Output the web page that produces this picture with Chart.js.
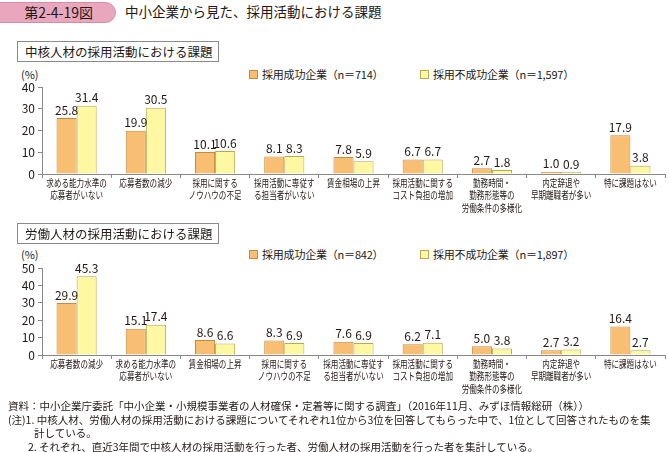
<!DOCTYPE html>
<html lang="ja">
<head>
<meta charset="utf-8">
<script src="https://cdn.jsdelivr.net/npm/chart.js@4"></script>
<style>
  body { margin: 0; width: 669px; height: 452px; background: #fff; position: relative; overflow: hidden;
         font-family: "Noto Sans CJK JP", "Noto Sans", sans-serif; color: #231815; }
  .abs { position: absolute; white-space: nowrap; }
  .fig-no { left: -12px; top: 2px; width: 128px; height: 21px; background: #e9a7bd; border: 1px solid #d88ba4;
            border-radius: 11px; box-sizing: border-box; font-size: 14px; line-height: 19px; text-align: right; padding-right: 22px; }
  .fig-title { left: 125px; top: 1px; font-size: 13.5px; line-height: 20px; }
  .sec { left: 17px; width: 202px; height: 21px; border: 1px solid #8a8a8a; box-sizing: border-box;
         font-size: 12.5px; line-height: 19px; padding-left: 7px; }
  .unit { font-size: 11px; left: 21px; }
  .lg { font-size: 11px; display: flex; align-items: center; letter-spacing: -0.2px; }
  .sw { width: 9px; height: 9px; box-sizing: border-box; margin-right: 4px; }
  .sw.o { background: #f8be72; border: 1px solid #c98a3e; }
  .sw.y { background: #fff8a2; border: 1px solid #b8a955; }
  canvas { position: absolute; left: 0; }
  .note { left: 8px; font-size: 10.5px; line-height: 13.5px; }
</style>
</head>
<body>
<div class="abs fig-no">第2-4-19図</div>
<div class="abs fig-title">中小企業から見た、採用活動における課題</div>

<div class="abs sec" style="top:41px">中核人材の採用活動における課題</div>
<div class="abs unit" style="top:66px">(%)</div>
<div class="abs lg" style="left:249px; top:66px"><span class="sw o"></span>採用成功企業（n＝714）</div>
<div class="abs lg" style="left:420px; top:66px"><span class="sw y"></span>採用不成功企業（n＝1,597）</div>
<canvas id="coreChart" width="669" height="150" style="top:77px"></canvas>

<div class="abs sec" style="top:223px">労働人材の採用活動における課題</div>
<div class="abs unit" style="top:246px">(%)</div>
<div class="abs lg" style="left:249px; top:246px"><span class="sw o"></span>採用成功企業（n＝842）</div>
<div class="abs lg" style="left:420px; top:246px"><span class="sw y"></span>採用不成功企業（n＝1,897）</div>
<canvas id="laborChart" width="669" height="150" style="top:258px"></canvas>

<div class="abs note" style="top:399px">資料：中小企業庁委託「中小企業・小規模事業者の人材確保・定着等に関する調査」（2016年11月、みずほ情報総研（株））<br>
(注)1. 中核人材、労働人材の採用活動における課題についてそれぞれ1位から3位を回答してもらった中で、1位として回答されたものを集<br>
<span style="padding-left:26px">計している。</span><br>
<span style="padding-left:20px">2. それぞれ、直近3年間で中核人材の採用活動を行った者、労働人材の採用活動を行った者を集計している。</span></div>

<script>
/* ---------- Data ---------- */
const coreLabels = [
  ['求める能力水準の', '応募者がいない'], '応募者数の減少', ['採用に関する', 'ノウハウの不足'],
  ['採用活動に専従す', 'る担当者がいない'], '賃金相場の上昇', ['採用活動に関する', 'コスト負担の増加'],
  ['勤務時間・', '勤務形態等の', '労働条件の多様化'], ['内定辞退や', '早期離職者が多い'], '特に課題はない'
];
const coreSuccess = [25.8, 19.9, 10.1, 8.1, 7.8, 6.7, 2.7, 1.0, 17.9];
const coreFail    = [31.4, 30.5, 10.6, 8.3, 5.9, 6.7, 1.8, 0.9, 3.8];
const coreTicks   = [0, 10, 20, 30, 40];

const laborLabels = [
  '応募者数の減少', ['求める能力水準の', '応募者がいない'], '賃金相場の上昇',
  ['採用に関する', 'ノウハウの不足'], ['採用活動に専従す', 'る担当者がいない'], ['採用活動に関する', 'コスト負担の増加'],
  ['勤務時間・', '勤務形態等の', '労働条件の多様化'], ['内定辞退や', '早期離職者が多い'], '特に課題はない'
];
const laborSuccess = [29.9, 15.1, 8.6, 8.3, 7.6, 6.2, 5.0, 2.7, 16.4];
const laborFail    = [45.3, 17.4, 6.6, 6.9, 6.9, 7.1, 3.8, 3.2, 2.7];
const laborTicks   = [0, 10, 20, 30, 40, 50];

const FONT = '"Noto Sans CJK JP", "Noto Sans", sans-serif';

/* ---------- Plugins: value labels + condensed category labels ---------- */
const valueLabels = {
  id: 'valueLabels',
  afterDatasetsDraw(chart) {
    const ctx = chart.ctx;
    ctx.save();
    ctx.font = '12px ' + FONT;
    ctx.fillStyle = '#231815';
    ctx.textAlign = 'center';
    ctx.textBaseline = 'bottom';
    chart.data.datasets.forEach((ds, di) => {
      chart.getDatasetMeta(di).data.forEach((bar, i) => {
        ctx.fillText(ds.data[i].toFixed(1), bar.x, bar.y - 2);
      });
    });
    ctx.restore();
  }
};

const catLabels = {
  id: 'catLabels',
  afterDraw(chart) {
    const s = chart.scales.x, ctx = chart.ctx;
    ctx.save();
    ctx.font = '10.5px ' + FONT;
    ctx.fillStyle = '#231815';
    ctx.textAlign = 'center';
    ctx.textBaseline = 'middle';
    chart.data.labels.forEach((lab, i) => {
      const lines = Array.isArray(lab) ? lab : [lab];
      const x = s.getPixelForValue(i);
      lines.forEach((ln, j) => {
        ctx.save();
        ctx.translate(x, s.top + 9 + j * 12.5);
        ctx.scale(0.72, 1);
        ctx.fillText(ln, 0, 0);
        ctx.restore();
      });
    });
    ctx.restore();
  }
};

function makeChart(id, labels, success, fail, ticks) {
  return new Chart(document.getElementById(id), {
    type: 'bar',
    data: {
      labels,
      datasets: [
        { data: success, backgroundColor: '#f8be72', borderColor: '#c98a3e', borderWidth: 1,
          categoryPercentage: 0.58, barPercentage: 1 },
        { data: fail, backgroundColor: '#fff8a2', borderColor: '#b8a955', borderWidth: 1,
          categoryPercentage: 0.58, barPercentage: 1 }
      ]
    },
    options: {
      responsive: false,
      animation: false,
      layout: { padding: { top: 10, right: 4, left: 0, bottom: 0 } },
      plugins: { legend: { display: false }, tooltip: { enabled: false } },
      scales: {
        x: {
          grid: { drawOnChartArea: false, drawTicks: true, tickLength: 4, color: '#888', offset: true },
          border: { color: '#888' },
          ticks: { display: false },
          afterFit: s => { s.height = 53; }
        },
        y: {
          min: ticks[0], max: ticks[ticks.length - 1],
          afterBuildTicks: s => { s.ticks = ticks.map(v => ({ value: v })); },
          ticks: { color: '#231815', font: { size: 12, family: FONT }, padding: 3, autoSkip: false },
          grid: { drawOnChartArea: false, tickLength: 4, color: '#888' },
          border: { color: '#888' },
          afterFit: s => { s.width = 42; }
        }
      }
    },
    plugins: [valueLabels, catLabels]
  });
}

makeChart('coreChart', coreLabels, coreSuccess, coreFail, coreTicks);
makeChart('laborChart', laborLabels, laborSuccess, laborFail, laborTicks);
</script>
</body>
</html>
